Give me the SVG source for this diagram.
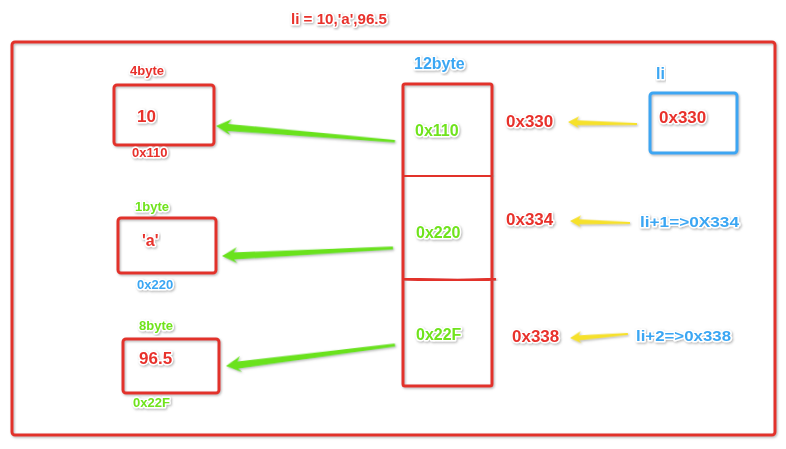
<svg xmlns="http://www.w3.org/2000/svg" width="786" height="449" viewBox="0 0 786 449">
<defs>
<filter id="sh" x="-10%" y="-10%" width="120%" height="130%">
<feDropShadow dx="1" dy="1.2" stdDeviation="0.8" flood-color="#777" flood-opacity="0.55"/>
</filter>
<style>
.box{fill:none;stroke:#e2302c;stroke-width:3;filter:url(#sh)}
.blue{stroke:#3ea6f2}
.t{font-family:"Liberation Sans",Arial,sans-serif;font-weight:bold;paint-order:stroke;stroke:#fff;stroke-width:3;stroke-linejoin:round;filter:url(#sh)}
.r{fill:#e8302c}
.g{fill:#6fe31c}
.b{fill:#3aa6f3}
.ga{fill:#6ae21c;filter:url(#sh)}
.ya{fill:#f6e12c;filter:url(#sh)}
</style>
</defs>
<rect width="786" height="449" fill="#fff"/>
<text class="t r" x="291" y="24" font-size="14" textLength="96" lengthAdjust="spacingAndGlyphs">li = 10,'a',96.5</text>
<rect id="frame" class="box" x="12" y="42" width="763" height="393" rx="3"/>

<g id="node-10">
<rect class="box" x="114" y="85" width="100" height="60" rx="3"/>
<text class="t r" x="130" y="75" font-size="13">4byte</text>
<text class="t r" x="137" y="122" font-size="17">10</text>
<text class="t r" x="132" y="157" font-size="13">0x110</text>
</g>
<g id="node-a">
<rect class="box" x="118" y="218" width="98" height="55" rx="3"/>
<text class="t g" x="135" y="211" font-size="13">1byte</text>
<text class="t r" x="142" y="246" font-size="16">'a'</text>
<text class="t b" x="137" y="289" font-size="13">0x220</text>
</g>
<g id="node-965">
<rect class="box" x="123" y="339" width="96" height="54" rx="3"/>
<text class="t g" x="139" y="330" font-size="13">8byte</text>
<text class="t r" x="139" y="364" font-size="17">96.5</text>
<text class="t g" x="133" y="407" font-size="13">0x22F</text>
</g>
<g id="memory">
<text class="t b" x="414" y="69" font-size="16">12byte</text>
<rect class="box" x="403" y="84" width="89" height="302" rx="2"/>
<path class="box" d="M403,176 L463,176.5 L492,175.5"/>
<path class="box" d="M403,279 C430,280 470,281 496,279"/>
<text class="t g" x="415" y="136" font-size="16">0x110</text>
<text class="t g" x="416" y="238" font-size="16">0x220</text>
<text class="t g" x="416" y="340" font-size="16">0x22F</text>
</g>
<g id="node-li">
<text class="t b" x="656" y="79" font-size="16">li</text>
<rect class="box blue" x="650" y="93" width="87" height="60" rx="3"/>
<text class="t r" x="659" y="123" font-size="17">0x330</text>
</g>
<g id="addr">
<text class="t r" x="506" y="127" font-size="17">0x330</text>
<text class="t r" x="506" y="225" font-size="17">0x334</text>
<text class="t r" x="512" y="342" font-size="17">0x338</text>
<text class="t b" x="640" y="227" font-size="15" textLength="99" lengthAdjust="spacingAndGlyphs">li+1=&gt;0X334</text>
<text class="t b" x="636" y="341" font-size="15" textLength="95" lengthAdjust="spacingAndGlyphs">li+2=&gt;0x338</text>
</g>
<g id="connectors">
<polygon class="ga" transform="translate(216,126) rotate(4.79)" points="0,0 15,-8 12,-3 179.6,-1 179.6,1.5 12,4 15,8"/>
<polygon class="ga" transform="translate(222,256) rotate(-2.68)" points="0,0 15,-8 12,-3 171.2,-1.5 171.2,1.5 12,4 15,8"/>
<polygon class="ga" transform="translate(226,366) rotate(-7.08)" points="0,0 15,-8 12,-3 170.3,-1.5 170.3,1.5 12,4 15,8"/>
<polygon class="ya" transform="translate(568,122) rotate(1.7)" points="0,0 11,-6 9,-2 69,-1 69,1 9,3 11,6"/>
<polygon class="ya" transform="translate(570,221) rotate(1.9)" points="0,0 11,-6 9,-2 60,-1 60,1 9,3 11,6"/>
<polygon class="ya" transform="translate(570,338) rotate(-4)" points="0,0 11,-6 9,-2 58,-1 58,1 9,3 11,6"/>
</g>
</svg>
